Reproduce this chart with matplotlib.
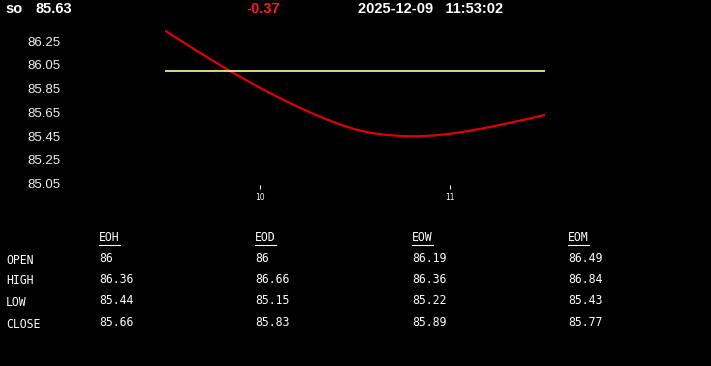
#Intraday chart + summary table
import matplotlib
matplotlib.use("Agg")
import matplotlib.pyplot as plt
from matplotlib.lines import Line2D

#datos
symbol = "so"
last_price = "85.63"
change = "-0.37"
stamp = "2025-12-09   11:53:02"

# horas (cada 5 minutos, 9:30 -> 11:30)
times = [9.5, 9.583, 9.667, 9.75, 9.833, 9.917, 10.0, 10.083, 10.167, 10.25, 10.333, 10.417,
         10.5, 10.583, 10.667, 10.75, 10.833, 10.917, 11.0, 11.083, 11.167, 11.25, 11.333,
         11.417, 11.5]
prices = [86.34, 86.255, 86.17, 86.088, 86.008, 85.931, 85.858, 85.788, 85.722, 85.66, 85.603,
          85.551, 85.508, 85.478, 85.46, 85.451, 85.449, 85.456, 85.47, 85.49, 85.514, 85.541,
          85.569, 85.598, 85.63]
open_price = 86.0

y_ticks = [85.05, 85.25, 85.45, 85.65, 85.85, 86.05, 86.25]
x_ticks = [10, 11]

periods = ["EOH", "EOD", "EOW", "EOM"]
rows = ["OPEN", "HIGH", "LOW", "CLOSE"]
values = [
    ["86", "86", "86.19", "86.49"],
    ["86.36", "86.66", "86.36", "86.84"],
    ["85.44", "85.15", "85.22", "85.43"],
    ["85.66", "85.83", "85.89", "85.77"],
]

W, H = 711, 366
fig = plt.figure(figsize=(W / 100, H / 100), dpi=100, facecolor="black")

# ejes del grafico (en pixeles)
left, right, top, bottom = 165, 545, 28.2, 188.5
ax = fig.add_axes([left / W, 1 - bottom / H, (right - left) / W, (bottom - top) / H])
ax.set_facecolor("black")
for s in ax.spines.values():
    s.set_visible(False)

ax.plot(times, prices, color="#e00000", lw=1.6, solid_capstyle="round", solid_joinstyle="round")
ax.plot([times[0], times[-1]], [open_price, open_price], color="#e6ec8c", lw=1.3)

ax.set_xlim(9.5, 11.5)
ax.set_ylim(85.009, 86.36)
ax.set_yticks(y_ticks)
ax.set_yticklabels([f"{v:.2f}" for v in y_ticks], fontsize=9.5, color="#f0f0f0",
                   family="Liberation Sans")
ax.tick_params(axis="y", length=0, pad=75)
ax.set_xticks(x_ticks)
ax.set_xticklabels([str(t) for t in x_ticks], fontsize=5.5, color="white")
ax.tick_params(axis="x", direction="in", length=3, width=0.8, color="white", pad=3)

def px(x, y):
    return x / W, 1 - y / H

# encabezado
hdr = dict(fontsize=10.5, fontweight="bold", family="Liberation Sans", va="center")
fig.text(*px(5, 9), symbol, color="white", **hdr)
fig.text(*px(35, 9), last_price, color="white", **hdr)
fig.text(*px(246, 9), change, color="#ff1a1a", **hdr)
fig.text(*px(358, 9), stamp, color="white", **hdr)

# tabla
col_x = [99, 255, 412, 568]
row_y = [260, 281, 302, 324]
mono = dict(fontsize=8.3, family="DejaVu Sans Mono", color="white", va="center")
heads = []
for x, p in zip(col_x, periods):
    heads.append(fig.text(*px(x, 238), p, **mono))
for y, r in zip(row_y, rows):
    fig.text(*px(6, y), r, **mono)
for i, y in enumerate(row_y):
    for j, x in enumerate(col_x):
        fig.text(*px(x, y - 1.5), values[i][j], **mono)

# subrayado de los encabezados
fig.canvas.draw()
r = fig.canvas.get_renderer()
for t in heads:
    bb = t.get_window_extent(r)
    fig.add_artist(Line2D([bb.x0 / W, bb.x1 / W], [1 - 244.5 / H] * 2, color="white", lw=0.8))

fig.savefig("out.png", dpi=100, facecolor="black")
